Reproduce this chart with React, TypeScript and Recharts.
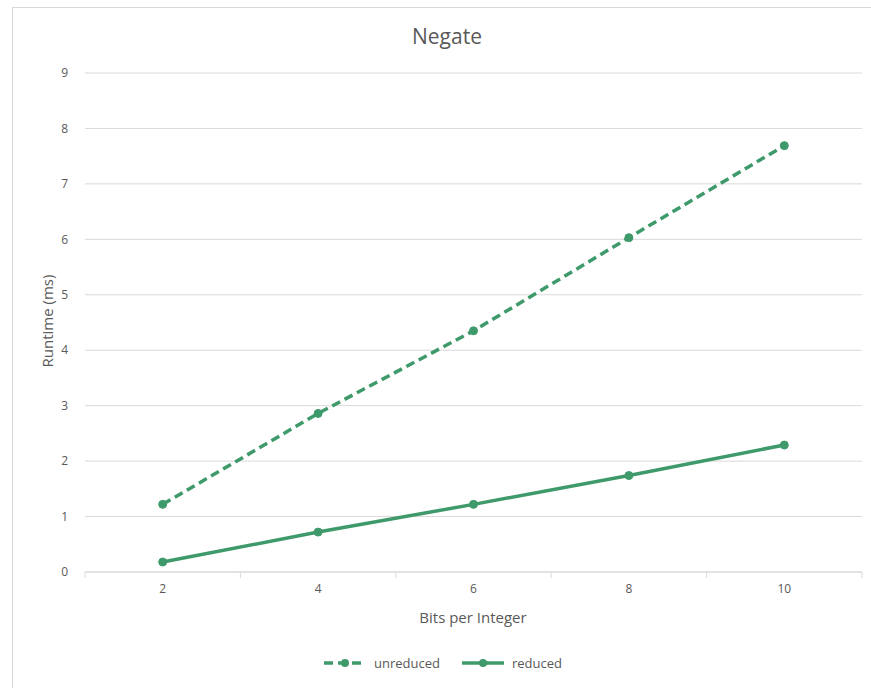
import React from "react";
import { LineChart, Line, XAxis, YAxis, CartesianGrid } from "recharts";

const bits = [2, 4, 6, 8, 10];
const unreduced = [1.22, 2.86, 4.35, 6.03, 7.69];
const reduced = [0.18, 0.72, 1.22, 1.74, 2.29];
const yTicks = [0, 1, 2, 3, 4, 5, 6, 7, 8, 9];
const categoryEdges = [1, 3, 5, 7, 9, 11];

const data = bits.map((b, i) => ({ bits: b, unreduced: unreduced[i], reduced: reduced[i] }));

const GREEN = "#3f9a6b";
const TEXT = "#595959";
const GRID = "#d9d9d9";
const FONT = "'Open Sans', 'Liberation Sans', sans-serif";

function LegendItem({ label, dashed }: { label: string; dashed: boolean }) {
  return (
    <div style={{ display: "flex", alignItems: "center", gap: 6 }}>
      <svg width={46} height={12}>
        <line x1={2} y1={6} x2={44} y2={6} stroke={GREEN} strokeWidth={3.5} strokeDasharray={dashed ? "9 5" : undefined} />
        <circle cx={23} cy={6} r={4} fill={GREEN} />
      </svg>
      <span>{label}</span>
    </div>
  );
}

export default function App() {
  return (
    <div style={{ position: "absolute", left: 0, top: 0, width: 871, height: 688, background: "#fff", overflow: "hidden", fontFamily: FONT }}>
      <div style={{ position: "absolute", left: 12, top: 7, width: 900, height: 700, border: `1px solid ${GRID}`, boxSizing: "border-box" }} />
      <div style={{ position: "absolute", left: 0, width: 894, top: 22, textAlign: "center", fontSize: 21, color: TEXT }}>Negate</div>
      <div
        style={{
          position: "absolute", left: 47, top: 321, fontSize: 15, color: TEXT, whiteSpace: "nowrap",
          transform: "translate(-50%, -50%) rotate(-90deg)",
        }}
      >
        Runtime (ms)
      </div>
      <div style={{ position: "absolute", left: 0, width: 946, top: 607, textAlign: "center", fontSize: 15, color: TEXT }}>Bits per Integer</div>
      <div style={{ position: "absolute", left: 322, top: 654, display: "flex", gap: 20, fontSize: 13, color: TEXT }}>
        <LegendItem label="unreduced" dashed />
        <LegendItem label="reduced" dashed={false} />
      </div>
      <LineChart width={871} height={688} data={data} margin={{ top: 73, right: 9, bottom: 75, left: 55 }} style={{ position: "absolute", left: 0, top: 0 }}>
        <CartesianGrid vertical={false} stroke={GRID} strokeWidth={1} xAxisId="main" />
        {/* boundary ticks between categories, with the axis line */}
        <XAxis
          xAxisId="edges"
          type="number"
          dataKey="bits"
          domain={[1, 11]}
          ticks={categoryEdges}
          height={1}
          stroke={GRID}
          tick={{ fill: "transparent", fontSize: 1 }}
          tickSize={6}
          tickLine={{ stroke: GRID }}
        />
        <XAxis
          xAxisId="main"
          type="number"
          dataKey="bits"
          domain={[1, 11]}
          ticks={bits}
          height={40}
          axisLine={false}
          tickLine={false}
          tickSize={0}
          tickMargin={11}
          tick={{ fontSize: 12, fill: TEXT, fontFamily: FONT }}
        />
        <YAxis
          type="number"
          domain={[0, 9]}
          ticks={yTicks}
          width={30}
          axisLine={false}
          tickLine={false}
          tickSize={0}
          tickMargin={17}
          tick={{ fontSize: 12, fill: TEXT, fontFamily: FONT }}
        />
        <Line
          xAxisId="main"
          dataKey="unreduced"
          stroke={GREEN}
          strokeWidth={3.5}
          strokeDasharray="9 5"
          dot={{ r: 4, fill: GREEN, stroke: GREEN, strokeWidth: 1, strokeDasharray: "" }}
          isAnimationActive={false}
        />
        <Line
          xAxisId="main"
          dataKey="reduced"
          stroke={GREEN}
          strokeWidth={3.5}
          dot={{ r: 4, fill: GREEN, stroke: GREEN, strokeWidth: 1 }}
          isAnimationActive={false}
        />
      </LineChart>
    </div>
  );
}
